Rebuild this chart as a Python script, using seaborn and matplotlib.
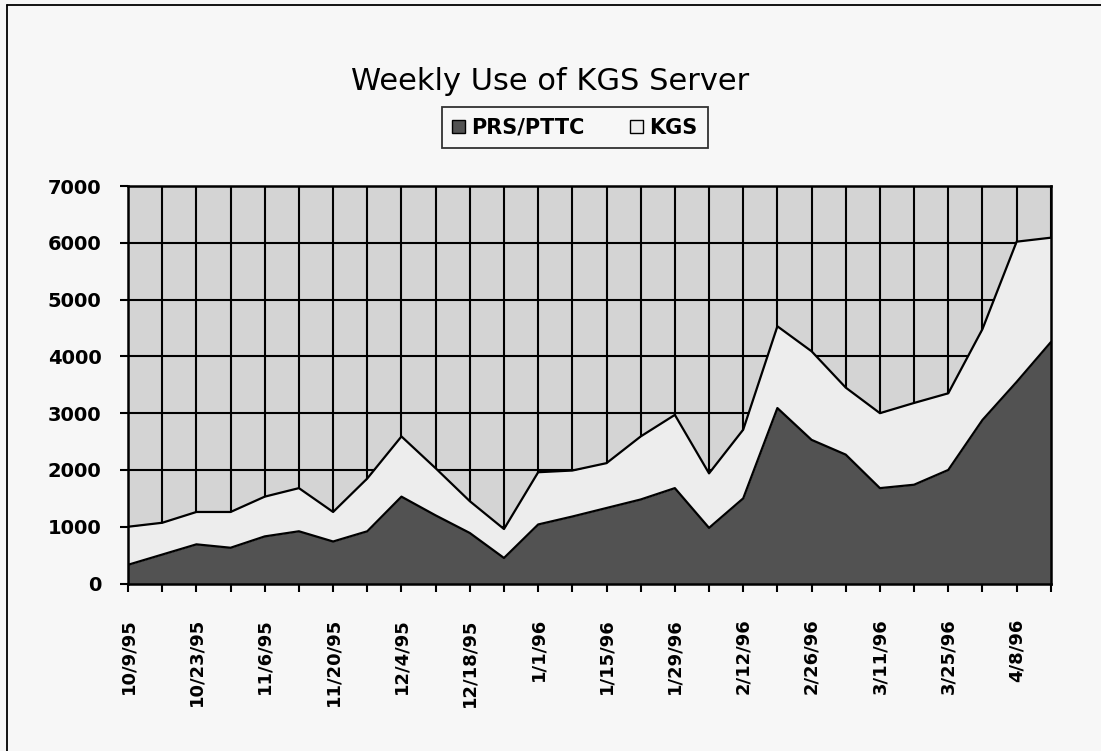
import numpy as np
import pandas as pd
import matplotlib.pyplot as plt
from matplotlib.lines import Line2D
from matplotlib.patches import Patch
import seaborn as sns

# weekly data
weeks = ['10/9/95', '10/16/95', '10/23/95', '10/30/95', '11/6/95', '11/13/95',
         '11/20/95', '11/27/95', '12/4/95', '12/11/95', '12/18/95', '12/25/95',
         '1/1/96', '1/8/96', '1/15/96', '1/22/96', '1/29/96', '2/5/96',
         '2/12/96', '2/19/96', '2/26/96', '3/4/96', '3/11/96', '3/18/96',
         '3/25/96', '4/1/96', '4/8/96', '4/15/96']
prs = [330, 510, 690, 630, 830, 920, 740, 920, 1530, 1200, 890, 450,
       1040, 1180, 1330, 1480, 1680, 980, 1500, 3090, 2530, 2270, 1680, 1740,
       2000, 2880, 3550, 4250]
kgs = [670, 560, 570, 630, 700, 760, 520, 930, 1060, 830, 560, 510,
       920, 810, 790, 1110, 1290, 960, 1210, 1440, 1560, 1180, 1320, 1440,
       1350, 1600, 2470, 1840]
yticks = [0, 1000, 2000, 3000, 4000, 5000, 6000, 7000]

df = pd.DataFrame({'week': weeks, 'PRS/PTTC': prs, 'KGS': kgs})
df['x'] = np.arange(len(df))
df['total'] = df['PRS/PTTC'] + df['KGS']

sns.set_style('white')
plt.rcParams['font.family'] = ['DejaVu Sans']
plt.rcParams['text.color'] = 'black'
plt.rcParams['xtick.color'] = 'black'
plt.rcParams['ytick.color'] = 'black'

dark = '#525252'
light = '#ededed'
bg = '#d4d4d4'

fig = plt.figure(figsize=(11.01, 7.51), dpi=100, facecolor='#f7f7f7')
ax = fig.add_axes([0.1163, 0.223, 0.8381, 0.5293])
ax.set_facecolor(bg)

ax.stackplot(df['x'], df['PRS/PTTC'], df['KGS'], colors=[dark, light],
             linewidth=0, zorder=2)
sns.lineplot(data=df, x='x', y='PRS/PTTC', color='black', lw=1.6, ax=ax, zorder=3)
sns.lineplot(data=df, x='x', y='total', color='black', lw=1.6, ax=ax, zorder=3)

ax.set_xlim(0, len(df) - 1)
ax.set_ylim(0, 7000)
ax.set_yticks(yticks)
ax.set_yticklabels([str(v) for v in yticks], fontsize=14, fontweight='bold')
ax.set_xticks(df['x'])
ax.set_xticklabels([w if i % 2 == 0 else '' for i, w in enumerate(weeks)],
                   rotation=90, fontsize=13, fontweight='bold', va='top')
ax.tick_params(axis='x', length=6, width=1.5, pad=19, direction='out', bottom=True)
ax.tick_params(axis='y', length=6, width=1.5, pad=13, direction='out', left=True)
ax.set_xlabel('')
ax.set_ylabel('')

ax.set_axisbelow(True)
ax.grid(True, color='black', lw=1.5)
for s in ax.spines.values():
    s.set_visible(True)
    s.set_color('black')
    s.set_linewidth(1.8)
    s.set_zorder(4)

fig.text(0.5, 0.891, 'Weekly Use of KGS Server', ha='center', va='center',
         fontsize=22, color='black')

handles = [Patch(facecolor=dark, edgecolor='black', label='PRS/PTTC'),
           Patch(facecolor=light, edgecolor='black', label='KGS')]
leg = fig.legend(handles=handles, loc='center', bbox_to_anchor=(0.522, 0.83),
                 ncol=2, frameon=True, fancybox=False, handlelength=0.6,
                 handleheight=0.6, handletextpad=0.3, columnspacing=2.2,
                 borderpad=0.5, prop={'weight': 'bold', 'size': 15})
leg.get_frame().set_edgecolor('black')
leg.get_frame().set_linewidth(1.3)
leg.get_frame().set_facecolor('#f7f7f7')

# outer chart frame (top and left edges visible in the scan)
fig.add_artist(Line2D([0.0064, 0.0064], [0.0, 0.993], color='black', lw=1.3))
fig.add_artist(Line2D([0.0064, 1.0], [0.993, 0.993], color='black', lw=1.3))

fig.savefig('out.png', dpi=100, facecolor=fig.get_facecolor())
